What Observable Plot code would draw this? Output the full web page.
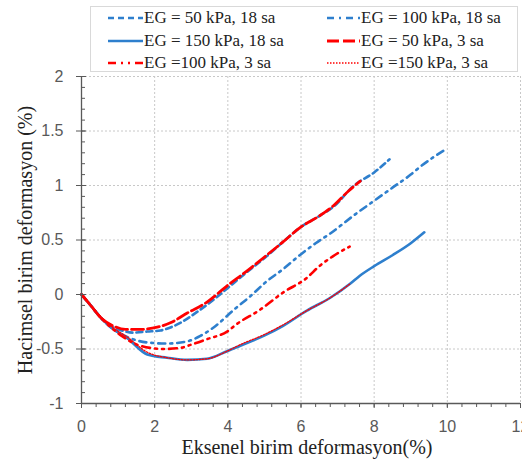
<!DOCTYPE html>
<html>
<head>
<meta charset="utf-8">
<script src="https://cdn.jsdelivr.net/npm/d3@7"></script>
<script src="https://cdn.jsdelivr.net/npm/@observablehq/plot@0.6"></script>
<style>
  html, body { margin: 0; padding: 0; background: #fff; }
  #wrap { position: relative; width: 522px; height: 461px; overflow: hidden; }
  #legend { position: absolute; left: 90px; top: 6px; width: 428px; height: 66px;
    border: 1px solid #d9d9d9; background: #fff; box-sizing: border-box;
    font-family: "Liberation Serif", serif; font-size: 17px; color: #222; }
  .item { position: absolute; display: flex; align-items: center; height: 20px; white-space: nowrap; }
  .item svg { display: block; margin-right: 1px; }
</style>
</head>
<body>
<div id="wrap"><div id="legend"></div></div>
<script>
// ---- data ----
const seriesNames = [
  "EG = 50 kPa, 18 sa", "EG = 100 kPa, 18 sa",
  "EG = 150 kPa, 18 sa", "EG = 50 kPa, 3 sa",
  "EG =100 kPa, 3 sa", "EG =150 kPa, 3 sa"
];
const xTicks = [0, 2, 4, 6, 8, 10, 12];
const yTicks = [-1, -0.5, 0, 0.5, 1, 1.5, 2];

const x50_18 = [0, 0.25, 0.52, 0.8, 1.1, 1.4, 1.8, 2.16, 2.45, 2.7, 3.16, 3.6, 4.0, 4.5, 5.06, 5.5, 6.0, 6.5, 6.87, 7.45, 8.0, 8.42];
const y50_18 = [0, -0.1, -0.21, -0.29, -0.33, -0.35, -0.34, -0.33, -0.3, -0.26, -0.16, -0.05, 0.06, 0.2, 0.35, 0.48, 0.62, 0.72, 0.8, 1.0, 1.12, 1.24];

const x100_18 = [0, 0.25, 0.52, 0.8, 1.07, 1.4, 1.8, 2.34, 2.89, 3.25, 3.62, 4.2, 4.6, 5.06, 5.5, 6.0, 6.4, 6.8, 7.5, 8.0, 8.5, 9.0, 9.25, 10.0];
const y100_18 = [0, -0.1, -0.21, -0.3, -0.36, -0.41, -0.44, -0.45, -0.43, -0.38, -0.3, -0.13, -0.02, 0.12, 0.23, 0.37, 0.47, 0.56, 0.74, 0.86, 0.98, 1.1, 1.17, 1.34];

const x150_18 = [0, 0.25, 0.52, 0.8, 1.25, 1.8, 2.34, 2.89, 3.43, 3.98, 4.34, 4.98, 5.5, 6.15, 6.8, 7.35, 7.6, 8.0, 8.5, 9.0, 9.37];
const y150_18 = [0, -0.1, -0.21, -0.3, -0.4, -0.55, -0.58, -0.6, -0.59, -0.52, -0.47, -0.38, -0.29, -0.15, -0.03, 0.1, 0.17, 0.26, 0.36, 0.47, 0.57];

const x50_3 = [0, 0.25, 0.52, 0.88, 1.2, 1.6, 2.07, 2.43, 2.89, 3.43, 3.98, 4.5, 5.06, 5.5, 6.0, 6.5, 6.87, 7.3, 7.62];
const y50_3 = [0, -0.1, -0.21, -0.29, -0.32, -0.32, -0.3, -0.26, -0.17, -0.07, 0.08, 0.21, 0.36, 0.48, 0.62, 0.72, 0.81, 0.95, 1.04];

const x100_3 = [0, 0.25, 0.52, 0.8, 1.1, 1.6, 2.25, 2.7, 3.0, 3.43, 3.98, 4.25, 4.88, 5.52, 6.15, 6.5, 6.87, 7.33];
const y100_3 = [0, -0.1, -0.21, -0.3, -0.38, -0.47, -0.5, -0.49, -0.46, -0.41, -0.34, -0.27, -0.14, 0.02, 0.15, 0.26, 0.35, 0.44];

const x150_3 = [0, 0.25, 0.52, 0.8, 1.25, 1.8, 2.34, 2.89, 3.43, 3.98, 4.34, 4.98, 5.5, 6.15, 6.8, 7.35];
const y150_3 = [0, -0.1, -0.2, -0.29, -0.39, -0.53, -0.58, -0.6, -0.59, -0.52, -0.46, -0.37, -0.28, -0.15, -0.03, 0.1];

// ---- styles ----
const blue = "#2e7fcd", red = "#ff0000";
const styles = [
  {xs: x50_18, ys: y50_18, color: blue, width: 2.6, dash: "6,4"},
  {xs: x100_18, ys: y100_18, color: blue, width: 2.6, dash: "7,5,2,5"},
  {xs: x150_18, ys: y150_18, color: blue, width: 2.6, dash: null},
  {xs: x50_3, ys: y50_3, color: red, width: 2.8, dash: "12,4"},
  {xs: x100_3, ys: y100_3, color: red, width: 2.6, dash: "8,5,2,5,2,5"},
  {xs: x150_3, ys: y150_3, color: red, width: 1.3, dash: "1.5,1.5"}
];

const lineMarks = styles.map(s => {
  const data = s.xs.map((x, k) => ({x, y: s.ys[k]}));
  return Plot.line(data, {x: "x", y: "y", stroke: s.color, strokeWidth: s.width,
    strokeDasharray: s.dash, curve: "monotone-x"});
});

const gray = "#595959";
const tickFont = {fontFamily: "'Liberation Sans', Arial, sans-serif", fontSize: 16};
const fmt = d => String(d);

const chart = Plot.plot({
  width: 522, height: 461,
  marginLeft: 81, marginRight: 2, marginTop: 76, marginBottom: 58,
  x: {domain: [0, 12]},
  y: {domain: [-1, 2]},
  style: {background: "transparent", overflow: "visible"},
  marks: [
    Plot.gridX(xTicks.slice(1), {stroke: "#c8c8c8", strokeOpacity: 1, strokeDasharray: "2,2"}),
    Plot.gridY(yTicks.slice(1), {stroke: "#c8c8c8", strokeOpacity: 1, strokeDasharray: "2,2"}),
    ...lineMarks,
    Plot.ruleX([0], {stroke: gray, strokeWidth: 1.3}),
    Plot.ruleY([-1], {stroke: gray, strokeWidth: 1.3}),
    Plot.axisX(d3.range(0, 12.01, 0.4), {tickSize: 4, text: null, stroke: gray, label: null}),
    Plot.axisX(xTicks, {tickSize: 5, tickPadding: 12, stroke: gray, fill: gray, label: null, tickFormat: fmt, ...tickFont}),
    Plot.axisY(d3.range(-1, 2.001, 0.1), {tickSize: -4, text: null, stroke: gray, label: null}),
    Plot.axisY(yTicks, {tickSize: -5, text: null, stroke: gray, label: null}),
    Plot.axisY(yTicks, {tickSize: 5, tickPadding: 13, stroke: gray, fill: gray, label: null, tickFormat: fmt, ...tickFont}),
    Plot.text(["Hacimsel birim deformasyon (%)"], {frameAnchor: "left", textAnchor: "middle", rotate: -90, dx: -56,
      fontFamily: "'Liberation Serif', serif", fontSize: 20, fill: "#222"}),
    Plot.text(["Eksenel birim deformasyon(%)"], {frameAnchor: "bottom", textAnchor: "middle", dx: 6, dy: 44, lineAnchor: "middle",
      fontFamily: "'Liberation Serif', serif", fontSize: 20, fill: "#222"})
  ]
});
document.getElementById("wrap").prepend(chart);

// ---- legend ----
const legend = document.getElementById("legend");
const pos = [[17, 11], [236, 11], [17, 34], [236, 34], [17, 56], [236, 56]];
seriesNames.forEach((name, i) => {
  const s = styles[i];
  const it = document.createElement("div");
  it.className = "item";
  it.style.left = pos[i][0] + "px";
  it.style.top = (pos[i][1] - 10) + "px";
  const sw = i % 2 === 0 ? 35 : 33;
  it.innerHTML = `<svg width="${sw}" height="10"><line x1="0" y1="5" x2="${sw}" y2="5" stroke="${s.color}" stroke-width="${s.width}" ${s.dash ? `stroke-dasharray="${s.dash}"` : ""}/></svg><span>${name}</span>`;
  legend.appendChild(it);
});
</script>
</body>
</html>
